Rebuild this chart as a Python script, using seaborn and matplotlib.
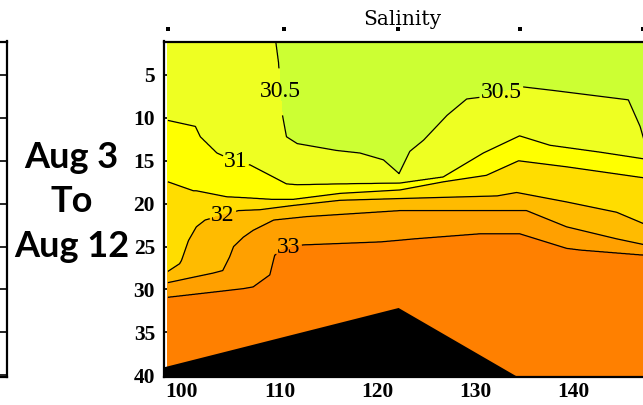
import numpy as np
import matplotlib
matplotlib.use("Agg")
import matplotlib.pyplot as plt
import matplotlib.transforms as mtransforms
import seaborn as sns

# ---- Isohaline depths (m) traced along the section (x = distance) ----
x_305 = [98.6, 109.5, 109.6, 109.9, 110.2, 110.7, 111.8, 115.8, 118.2, 120.6, 122.2,
         123.3, 124.7, 127.1, 129.1, 130.5, 134.9, 137.9, 145.6, 146.8, 147.3]
d_305 = [-6.0, -6.0, 1.0, 3.6, 9.1, 12.2, 13.0, 13.8, 14.1, 14.9, 16.5,
         13.9, 12.6, 9.7, 7.8, 7.6, 6.4, 6.8, 7.9, 11.0, 13.0]

x_310 = [98.6, 101.0, 101.4, 101.9, 103.6, 105.5, 107.0, 110.7, 111.8, 116.2, 122.3,
         126.7, 130.8, 134.5, 137.6, 142.7, 147.3]
d_310 = [10.3, 10.9, 11.0, 12.2, 14.1, 15.1, 15.5, 17.7, 17.8, 17.7, 17.6,
         16.9, 14.1, 12.1, 13.2, 14.0, 14.8]

x_315 = [98.6, 101.2, 101.5, 104.6, 106.3, 109.2, 111.4, 116.2, 122.3, 126.7, 131.1,
         134.4, 139.3, 147.3]
d_315 = [17.45, 18.5, 18.5, 19.2, 19.3, 19.5, 19.5, 18.8, 18.4, 17.45, 16.7,
         15.0, 15.7, 17.0]

x_320 = [98.6, 99.8, 100.0, 100.7, 101.5, 102.4, 104.3, 105.8, 108.0, 111.4, 116.2,
         122.3, 132.2, 134.2, 139.3, 144.4, 147.3]
d_320 = [27.9, 27.0, 26.6, 24.3, 22.7, 21.9, 21.3, 20.8, 20.7, 20.2, 19.6,
         19.4, 19.1, 18.7, 19.8, 21.0, 22.4]

x_325 = [98.6, 103.2, 104.2, 104.9, 105.3, 106.3, 107.3, 109.4, 112.8, 119.6, 122.3,
         135.2, 139.3, 144.4, 147.3]
d_325 = [29.2, 28.1, 27.8, 26.2, 25.0, 23.9, 23.1, 21.9, 21.5, 21.0, 20.8,
         20.8, 22.7, 24.1, 24.8]

x_330 = [98.6, 106.3, 107.3, 109.0, 109.5, 110.7, 112.4, 120.3, 122.3, 123.7, 130.5,
         134.5, 139.3, 140.7, 147.3]
d_330 = [30.9, 29.9, 29.7, 28.3, 26.0, 25.2, 24.8, 24.45, 24.25, 24.1, 23.5,
         23.5, 25.2, 25.4, 26.0]

levels = [30.5, 31.0, 31.5, 32.0, 32.5, 33.0]
band_colors = ["#ccff33", "#eeff22", "#ffff00", "#ffdd00", "#ffbb00", "#ffa000", "#ff8000"]

labelled_levels = [30.5, 31.0, 32.0, 33.0]
plain_levels = [31.5, 32.5]
label_spots = [(109.8, 7.0), (132.7, 7.4), (105.5, 15.1), (104.2, 21.2), (110.9, 25.1)]

# sea floor along the section
bottom_x = [98.2, 122.1, 134.5, 148.0]
bottom_d = [39.0, 32.1, 40.3, 40.3]

stations = [98.6, 110.5, 122.1, 134.5, 147.1]
x_ticks = [100, 110, 120, 130, 140]
depth_ticks = [5, 10, 15, 20, 25, 30, 35, 40]

# ---- gridded salinity field built column by column from the isohalines ----
x_lists = [x_305, x_310, x_315, x_320, x_325, x_330]
d_lists = [d_305, d_310, d_315, d_320, d_325, d_330]
xg = np.linspace(98.6, 147.3, 1200)
dg = np.linspace(0.0, 41.0, 1000)
iso = np.array([np.interp(xg, xs, ds) for xs, ds in zip(x_lists, d_lists)])
col_depths = np.vstack([iso[0] - 8.0, iso, iso[-1] + 15.0])
col_vals = [30.0] + levels + [34.0]
salt = np.empty((dg.size, xg.size))
for j in range(xg.size):
    salt[:, j] = np.interp(dg, col_depths[:, j], col_vals)

# ---- figure ----
sns.set_theme(style="white")
plt.rcParams["font.family"] = ["Liberation Serif", "DejaVu Serif"]

W, H = 643, 405
fig = plt.figure(figsize=(W / 100, H / 100), dpi=100)
fig.patch.set_facecolor("white")

ax_l, ax_r, ax_t, ax_b = 164, 643, 41.5, 377
ax = fig.add_axes([ax_l / W, 1 - ax_b / H, (ax_r - ax_l) / W, (ax_b - ax_t) / H])
ax.set_facecolor("white")

ax.contourf(xg, dg, salt, levels=[29.0] + levels + [35.0], colors=band_colors, zorder=1)
ax.contour(xg, dg, salt, levels=plain_levels, colors="black", linewidths=0.9, zorder=2)
cs = ax.contour(xg, dg, salt, levels=labelled_levels, colors="black", linewidths=0.9,
                zorder=2)
texts = ax.clabel(cs, manual=label_spots, inline=True, inline_spacing=2,
                  fmt=lambda v: f"{v:g}", fontsize=17, colors="black")
for t in texts:
    t.set_rotation(0)
    t.set_fontfamily("Liberation Serif")

ax.fill_between(bottom_x, bottom_d, 41.0, color="black", linewidth=0, zorder=3)

ax.set_xlim(98.2, 147.1)
ax.set_ylim(40.2, 1.1)
ax.set_xticks(x_ticks)
ax.set_xticklabels([str(v) for v in x_ticks])
ax.set_yticks(depth_ticks)
ax.set_yticklabels([str(v) for v in depth_ticks])
ax.tick_params(axis="x", length=0, pad=3.5, labelsize=15.5)
ax.tick_params(axis="y", direction="in", length=3.5, width=1.2, pad=6.5, labelsize=15.5,
               color="black", left=True)
for lab in ax.get_xticklabels() + ax.get_yticklabels():
    lab.set_fontweight("bold")
    lab.set_fontfamily("Liberation Serif")
    lab.set_color("black")
for side in ("left", "top", "bottom"):
    ax.spines[side].set_visible(True)
    ax.spines[side].set_color("black")
    ax.spines[side].set_linewidth(1.6)
ax.spines["right"].set_visible(False)
ax.grid(False)

# station marks above the section
mark_tr = mtransforms.blended_transform_factory(ax.transData, ax.transAxes)
sns.scatterplot(x=stations, y=[1.036] * len(stations), ax=ax, marker="s", s=7,
                color="black", linewidth=0, transform=mark_tr, clip_on=False, zorder=5)

fig.text(402 / W, 1 - 25 / H, "Salinity", ha="center", va="baseline",
         fontsize=14.5, family="DejaVu Serif", color="black")

# edge of the neighbouring panel on the left
axn = fig.add_axes([-0.2, 1 - ax_b / H, 0.2 + 7 / W, (ax_b - ax_t) / H])
axn.set_facecolor("white")
axn.set_xlim(0, 1)
axn.set_ylim(40.2, 1.1)
axn.set_xticks([])
axn.yaxis.tick_right()
axn.set_yticks(depth_ticks)
axn.tick_params(axis="y", direction="in", length=5, width=1.2, labelright=False,
                labelleft=False, color="black", right=True)
for side in ("right", "top", "bottom"):
    axn.spines[side].set_visible(True)
    axn.spines[side].set_color("black")
    axn.spines[side].set_linewidth(1.6)
axn.spines["left"].set_visible(False)

fig.text(71.5 / W, 1 - 202 / H, "Aug 3\nTo\nAug 12", ha="center", va="center",
         multialignment="center", fontsize=26, fontweight="bold",
         family=["Lato", "DejaVu Sans"], linespacing=1.42, color="black")

fig.savefig("out.png", dpi=100)
